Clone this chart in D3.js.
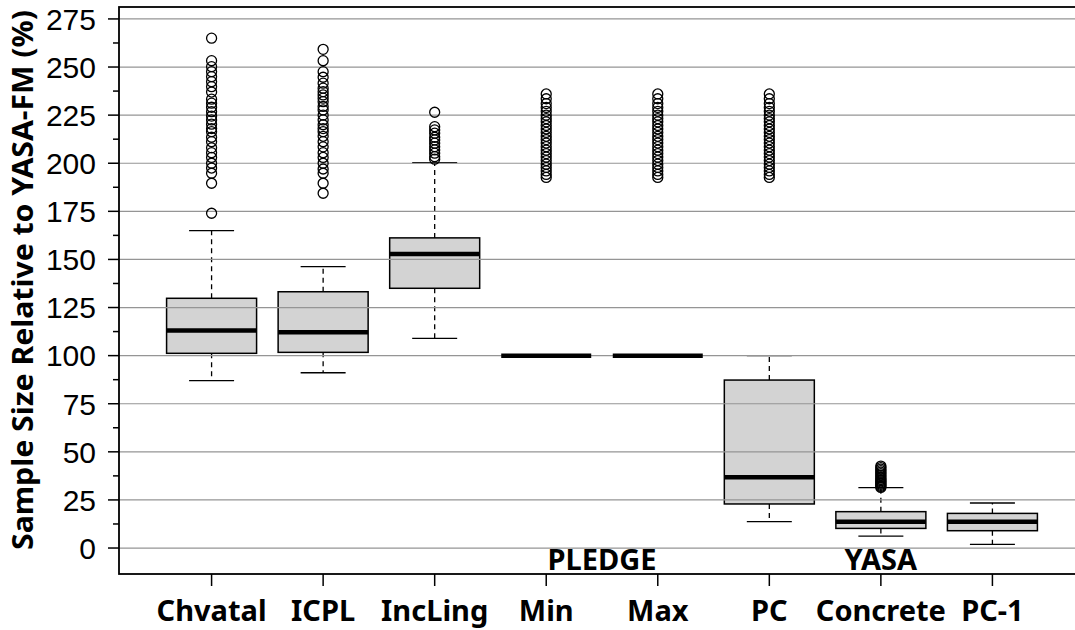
<!DOCTYPE html>
<html>
<head>
<meta charset="utf-8">
<script src="https://cdn.jsdelivr.net/npm/d3@7"></script>
<style>
  html, body { margin: 0; padding: 0; background: #fff; }
  svg { display: block; }
</style>
</head>
<body>
<svg id="chart" width="1075" height="630"></svg>
<script>
const categories = ["Chvatal", "ICPL", "IncLing", "Min", "Max", "PC", "Concrete", "PC-1"];
const lowerWhisker = [87.0, 91.1, 109.0, 100, 100, 13.7, 6.2, 1.9];
const q1Values     = [101.2, 101.7, 135.0, 100, 100, 22.9, 10.2, 9.0];
const medians      = [113.0, 112.1, 152.8, 100, 100, 36.8, 13.7, 13.7];
const q3Values     = [129.8, 133.2, 161.2, 100, 100, 87.3, 18.9, 18.0];
const upperWhisker = [165.0, 146.3, 200.3, 100, 100, 100.0, 31.4, 23.4];

const outliersChvatal = [265.0, 253.3, 250.2, 247.6, 245.0, 242.4, 239.8, 237.0, 233.3, 231.2, 229.1, 226.8, 224.5, 222.5, 220.3, 218.0, 216.4, 213.5, 211.2, 208.0, 205.5, 203.0, 200.0, 197.5, 194.8, 189.6, 174.0];
const outliersICPL = [259.2, 253.3, 247.6, 244.7, 241.6, 239.0, 237.2, 235.5, 233.8, 232.0, 229.5, 227.7, 225.0, 222.5, 220.0, 218.0, 216.4, 214.0, 211.2, 208.5, 205.5, 203.0, 200.0, 197.0, 194.8, 189.6, 184.4];
const outliersIncLing = [226.5, 219.0, 217.3, 215.6, 213.5, 212.1, 210.4, 208.6, 206.9, 205.2, 203.4, 202.1];
const outliersMin = [236.0, 233.5, 231.0, 229.0, 227.0, 225.0, 223.2, 221.5, 219.6, 217.8, 216.0, 214.0, 212.3, 210.5, 208.6, 206.8, 205.0, 203.2, 201.4, 199.5, 197.8, 196.0, 194.2, 192.6];
const outliersMax = [236.0, 233.5, 231.0, 229.0, 227.0, 225.0, 223.2, 221.5, 219.6, 217.8, 216.0, 214.0, 212.3, 210.5, 208.6, 206.8, 205.0, 203.2, 201.4, 199.5, 197.8, 196.0, 194.2, 192.6];
const outliersPC = [236.0, 233.5, 231.0, 229.0, 227.0, 225.0, 223.2, 221.5, 219.6, 217.8, 216.0, 214.0, 212.3, 210.5, 208.6, 206.8, 205.0, 203.2, 201.4, 199.5, 197.8, 196.0, 194.2, 192.6];
const outliersConcrete = [42.6, 41.8, 41.0, 40.2, 39.4, 38.6, 37.8, 37.0, 36.3, 35.6, 35.0, 34.4, 33.8, 33.2, 32.6, 32.0, 31.5];
const outliersPC1 = [];
const outliers = [outliersChvatal, outliersICPL, outliersIncLing, outliersMin, outliersMax, outliersPC, outliersConcrete, outliersPC1];

const majorTicks = [0, 25, 50, 75, 100, 125, 150, 175, 200, 225, 250, 275];
const minorTicks = [12.5, 37.5, 62.5, 87.5, 112.5, 137.5, 162.5, 187.5, 212.5, 237.5, 262.5];
const groupLabels = [
  { text: "PLEDGE", from: "Min", to: "Max" },
  { text: "YASA", from: "Concrete", to: "Concrete" }
];
const yTitle = "Sample Size Relative to YASA-FM (%)";

const svg = d3.select("#chart");
const pLeft = 119, pRight = 1085, pTop = 7, pBottom = 574;

const x = d3.scaleLinear().domain([-0.83, categories.length - 1 + 0.83]).range([pLeft, pRight]);
const y = d3.scaleLinear().domain([-13.5, 281.2]).range([pBottom, pTop]);
const xi = name => x(categories.indexOf(name));

const halfBox = 45, halfCap = 22.5;

svg.append("rect").attr("width", 1075).attr("height", 630).attr("fill", "#fff");

const plot = svg.append("g");

categories.forEach((c, i) => {
  const cx = x(i);
  const g = plot.append("g");
  g.append("line").attr("x1", cx).attr("x2", cx)
    .attr("y1", y(q3Values[i])).attr("y2", y(upperWhisker[i]))
    .attr("stroke", "#000").attr("stroke-width", 1.3).attr("stroke-dasharray", "5,4");
  g.append("line").attr("x1", cx).attr("x2", cx)
    .attr("y1", y(q1Values[i])).attr("y2", y(lowerWhisker[i]))
    .attr("stroke", "#000").attr("stroke-width", 1.3).attr("stroke-dasharray", "5,4");
  [upperWhisker[i], lowerWhisker[i]].forEach(v => {
    g.append("line").attr("x1", cx - halfCap).attr("x2", cx + halfCap)
      .attr("y1", y(v)).attr("y2", y(v))
      .attr("stroke", "#000").attr("stroke-width", 1.3);
  });
  g.append("rect").attr("x", cx - halfBox).attr("width", 2 * halfBox)
    .attr("y", y(q3Values[i])).attr("height", Math.max(0, y(q1Values[i]) - y(q3Values[i])))
    .attr("fill", "#d3d3d3").attr("stroke", "#000").attr("stroke-width", 1.5);
});

plot.append("g").selectAll("line").data(majorTicks).join("line")
  .attr("x1", pLeft).attr("x2", pRight)
  .attr("y1", d => y(d)).attr("y2", d => y(d))
  .attr("stroke", "#959595").attr("stroke-width", 1.2);

plot.append("g").selectAll("line").data(categories).join("line")
  .attr("x1", (d, i) => x(i) - halfBox).attr("x2", (d, i) => x(i) + halfBox)
  .attr("y1", (d, i) => y(medians[i])).attr("y2", (d, i) => y(medians[i]))
  .attr("stroke", "#000").attr("stroke-width", 4.5);

categories.forEach((c, i) => {
  plot.append("g").selectAll("circle").data(outliers[i]).join("circle")
    .attr("cx", x(i)).attr("cy", d => y(d)).attr("r", 5)
    .attr("fill", "none").attr("stroke", "#000").attr("stroke-width", 1.3);
});

svg.append("rect").attr("x", pLeft).attr("y", pTop).attr("width", pRight - pLeft).attr("height", pBottom - pTop)
  .attr("fill", "none").attr("stroke", "#000").attr("stroke-width", 1.8);

const yAxisG = svg.append("g");
yAxisG.selectAll("line.major").data(majorTicks).join("line").attr("class", "major")
  .attr("x1", pLeft - 11).attr("x2", pLeft).attr("y1", d => y(d)).attr("y2", d => y(d))
  .attr("stroke", "#000").attr("stroke-width", 1.5);
yAxisG.selectAll("line.minor").data(minorTicks).join("line").attr("class", "minor")
  .attr("x1", pLeft - 6).attr("x2", pLeft).attr("y1", d => y(d)).attr("y2", d => y(d))
  .attr("stroke", "#000").attr("stroke-width", 1.5);
yAxisG.selectAll("text").data(majorTicks).join("text")
  .attr("x", 96).attr("y", d => y(d)).attr("dy", "0.36em")
  .attr("text-anchor", "end")
  .attr("font-family", "'Liberation Sans', Arial, sans-serif").attr("font-size", 30)
  .attr("fill", "#000")
  .text(d => d);

const xAxisG = svg.append("g");
xAxisG.selectAll("line").data(categories).join("line")
  .attr("x1", (d, i) => x(i)).attr("x2", (d, i) => x(i))
  .attr("y1", pBottom).attr("y2", pBottom + 12)
  .attr("stroke", "#000").attr("stroke-width", 1.5);
xAxisG.selectAll("text").data(categories).join("text")
  .attr("x", (d, i) => x(i)).attr("y", 621)
  .attr("text-anchor", "middle")
  .attr("font-family", "'Noto Sans', 'Open Sans', sans-serif").attr("font-weight", "bold")
  .attr("font-size", 29).attr("fill", "#000")
  .text(d => d);

svg.append("g").selectAll("text").data(groupLabels).join("text")
  .attr("x", d => (xi(d.from) + xi(d.to)) / 2).attr("y", 570)
  .attr("text-anchor", "middle")
  .attr("font-family", "'Noto Sans', 'Open Sans', sans-serif").attr("font-weight", "bold")
  .attr("font-size", 29).attr("fill", "#000")
  .text(d => d.text);

svg.append("text")
  .attr("transform", "translate(33,280) rotate(-90)")
  .attr("text-anchor", "middle")
  .attr("font-family", "'Noto Sans', 'Open Sans', sans-serif").attr("font-weight", "bold")
  .attr("font-size", 28).attr("fill", "#000")
  .attr("textLength", 540).attr("lengthAdjust", "spacingAndGlyphs")
  .text(yTitle);
</script>
</body>
</html>
